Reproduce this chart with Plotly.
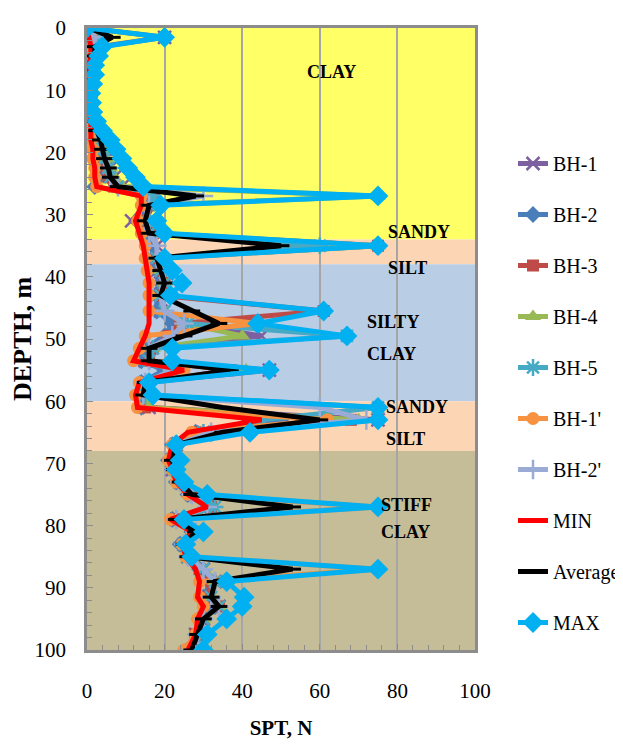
import plotly.graph_objects as go

depth = [0, 1.5, 3, 4.5, 6, 7.5, 9, 10.5, 12, 13.5, 15, 16.5, 18, 19.5, 21, 22.5, 24, 25.5, 27, 28.5,
         31, 33, 35, 37, 39, 41, 43,
         45.5, 47.5, 49.5, 51.5, 53.5, 55, 57, 59,
         61, 63, 65, 67, 69.5, 71, 73, 75, 77, 79, 81, 83, 85, 87, 89, 91.5, 93, 95, 97.5, 100]

bh1 = [0, 20, 3, 2, 1.5, 1, 1, 0.5, 1, 1, 1.5, 3, 4, 5, 5, 6, 7, 9, 18, 15,
       11.5, 15, 18, 17, 18, 19, 18,
       19, 24, 45, 16, 15, 47, 15, 14,
       16, 75, 30, 23, 22, 22, 24, 27, 31, 23, 28, 25, 26, 30, 33, 31, 34, 30, 28, 27]
bh2 = [0, 3, 2, 1.5, 1, 1, 0.5, 0.5, 1, 1, 1, 2, 3, 3, 3.5, 4, 3, 2, 16, 15,
       14, 15, 17, 17, 18, 19, 18,
       18, 22, 20, 15, 14, 20, 14, 14,
       14, 50, 28, 22, 21, 22, 23, 26, 31, 22, 27, 24, 26, 29, 32, 30, 33, 29, 28, 27]
bh3 = [0, 2, 1.5, 1.5, 1, 1, 1, 0.5, 1, 1, 1.5, 2, 3, 3.5, 4, 5, 5.5, 7, 16, 17,
       15, 17, 75, 18, 19, 20, 19,
       61, 24, 21, 17, 16, 37, 15, 14.5,
       15, 68, 28, 23, 22, 23, 24, 27, 32, 23, 28, 25, 26, 29, 32, 31, 34, 30, 28, 27]
bh4 = [0, 3, 2.5, 2, 1.5, 1, 1, 0.5, 1, 1.5, 2, 3, 4, 4.5, 5, 6, 7, 9, 75, 16,
       15, 16, 75, 18, 19, 20, 19,
       20, 25, 40, 17, 16, 41, 15, 15,
       16, 70, 30, 23, 22, 22.5, 24, 27, 32, 23, 28, 25, 26, 30, 33, 32, 34, 30, 29, 27]
bh5 = [0, 3, 2, 2, 1.5, 1, 1, 0.5, 1, 1, 1.5, 2.5, 3.5, 4, 4.5, 5.5, 6, 8, 17, 16,
       15, 16, 60, 18, 19, 20, 19,
       20, 26, 67, 17, 16, 22, 15, 15,
       75, 45, 30, 23, 22, 22.5, 24, 27, 33, 23, 28, 25, 26, 30, 33, 32, 34, 30, 29, 27]
bh1p = [0, 1, 1, 1, 0.5, 0.5, 0.5, 0, 0.5, 0.5, 1, 1, 1, 1.5, 1.5, 2, 2, 2.5, 14, 14,
        13, 14, 15, 15, 15.5, 16, 16,
        16, 44, 15, 13.5, 12, 25, 13.5, 12.5,
        13, 62, 27, 22, 21, 22, 23, 26, 75, 21.5, 27, 24.5, 25.5, 75, 29, 29, 30, 28.5, 28, 25]
bh2p = [0, 2, 2, 1.5, 1, 1, 1, 0.5, 1, 1, 1.5, 2.5, 3.5, 4, 4.5, 5.5, 6, 8, 30, 16,
        15, 16, 18, 18, 19, 20, 19,
        20, 25, 22, 16, 16, 22, 15, 14.5,
        60, 72, 32, 23, 22, 22.5, 24, 27, 31, 23, 28, 25, 26, 30, 33, 32, 34, 30, 28.5, 27]
n_min = [0, 0.5, 1, 1, 0.5, 0.5, 0.5, 0, 0.5, 0.5, 1, 1, 1, 1.5, 1.5, 2, 2, 2.5, 14, 14,
         12.5, 13.5, 14.5, 15, 15.5, 16, 16,
         16, 16, 15, 13.5, 12, 25, 13.5, 12.5,
         13, 45, 26, 22, 21, 22, 23, 26, 31, 21.5, 27, 24.5, 25.5, 28, 29, 28.5, 30, 28.5, 28, 26]
n_avg = [0.5, 6.5, 2, 2, 1.5, 1, 1, 0.5, 1, 1, 1.5, 2.5, 3.5, 4, 4.5, 5.5, 6, 8, 28, 16,
         15, 16, 50, 18, 19, 20, 19,
         27, 34, 25, 16, 16, 37, 15, 14.5,
         35, 60, 35, 23, 22, 22.5, 24, 27, 53, 23, 28, 25, 26, 53, 33, 32, 34, 30, 28.5, 27]
n_max = [0, 20, 4, 3, 2, 2, 1.5, 1, 1.2, 1.5, 2.5, 4, 6, 7.5, 9, 10.5, 12.5, 14.5, 75, 19,
         18, 20, 75, 20, 22, 24.5, 21.5,
         61, 44, 67, 22, 22, 47, 16, 17,
         75, 75, 42, 23, 24, 23, 25, 31, 75, 25, 30, 25.5, 27, 75, 36, 40.5, 40, 36, 31, 30]

layers = [(0, 34, "#FFFF66"), (34, 38, "#FCD5B5"), (38, 60, "#B9CDE5"), (60, 68, "#FCD5B5"), (68, 100, "#C4BD97")]
labels = [("CLAY", 63, 7.1, "center"), ("SANDY", 77, 32.8, "left"), ("SILT", 77, 38.6, "left"),
          ("SILTY", 71.6, 47.3, "left"), ("CLAY", 71.6, 52.4, "left"),
          ("SANDY", 76.5, 61, "left"), ("SILT", 76.5, 66, "left"),
          ("STIFF", 75.2, 76.7, "left"), ("CLAY", 75.2, 81, "left")]

SERIF = "Liberation Serif"

series = [
    ("BH-1", bh1, "#7D60A0", dict(symbol="x-thin-open", size=13, line=dict(width=2.5, color="#7D60A0"))),
    ("BH-2", bh2, "#4A7EBB", dict(symbol="diamond", size=13)),
    ("BH-3", bh3, "#BE4B48", dict(symbol="square", size=12)),
    ("BH-4", bh4, "#98B954", dict(symbol="triangle-up", size=14)),
    ("BH-5", bh5, "#46AAC5", dict(symbol="asterisk-open", size=14, line=dict(width=2.5, color="#46AAC5"))),
    ("BH-1'", bh1p, "#F69240", dict(symbol="circle", size=13)),
    ("BH-2'", bh2p, "#9AABD6", dict(symbol="cross-thin-open", size=14, line=dict(width=2.5, color="#9AABD6"))),
    ("MIN", n_min, "#FF0000", None),
    ("Average", n_avg, "#000000", dict(symbol="line-ew-open", size=12, line=dict(width=3, color="#000000"))),
    ("MAX", n_max, "#00B0F0", dict(symbol="diamond", size=16)),
]

fig = go.Figure()
for name, vals, col, mk in series:
    kw = {}
    if mk is None:
        mode = "lines"
    else:
        mode = "lines+markers"
        m = dict(mk)
        m.setdefault("color", col)
        kw["marker"] = m
    fig.add_trace(go.Scatter(x=vals, y=depth, name=name, mode=mode, legendgroup=name,
                             line=dict(color=col, width=5), **kw))

for y0, y1, c in layers:
    fig.add_shape(type="rect", xref="x", yref="y", x0=0, x1=100, y0=y0, y1=y1,
                  fillcolor=c, line=dict(width=0), layer="below")

for t, x, y, anc in labels:
    fig.add_annotation(x=x, y=y, xref="x", yref="y", text="<b>%s</b>" % t, showarrow=False,
                       xanchor=anc, yanchor="middle", font=dict(family=SERIF, size=18, color="black"))

# page body has an 8px margin: size figure and margins to compensate
fig.update_layout(
    width=615, height=741,
    margin=dict(l=79, r=148, t=20, b=99, autoexpand=False),
    paper_bgcolor="white", plot_bgcolor="white",
    font=dict(family=SERIF, size=20, color="black"),
    legend=dict(x=1.098, y=0.8135, xanchor="left", yanchor="top", tracegroupgap=22,
                font=dict(family=SERIF, size=20, color="black"), bgcolor="rgba(0,0,0,0)"),
    showlegend=True,
)
fig.update_xaxes(range=[0, 100], dtick=20, tick0=0, showgrid=True, gridcolor="#A6A6A6", gridwidth=1.5,
                 showline=True, mirror=True, linecolor="#8C8C8C", linewidth=2.5, automargin=False,
                 ticks="inside", ticklen=6, tickcolor="#8C8C8C", ticklabelstandoff=20,
                 minor=dict(dtick=4, ticks="inside", ticklen=5, tickcolor="#8C8C8C", showgrid=False),
                 zeroline=False, tickfont=dict(family=SERIF, size=21),
                 title=dict(text="<b>SPT, N</b>", font=dict(family=SERIF, size=21), standoff=19))
fig.update_yaxes(range=[100, 0], dtick=10, tick0=0, showgrid=False,
                 showline=True, mirror=True, linecolor="#8C8C8C", linewidth=2.5, automargin=False,
                 ticks="inside", ticklen=6, tickcolor="#8C8C8C", ticklabelstandoff=14,
                 minor=dict(dtick=2, ticks="inside", ticklen=5, tickcolor="#8C8C8C", showgrid=False),
                 zeroline=False, tickfont=dict(family=SERIF, size=21),
                 title=dict(text="<b>DEPTH, m</b>", font=dict(family=SERIF, size=26), standoff=0))

fig.write_html("out.html")
